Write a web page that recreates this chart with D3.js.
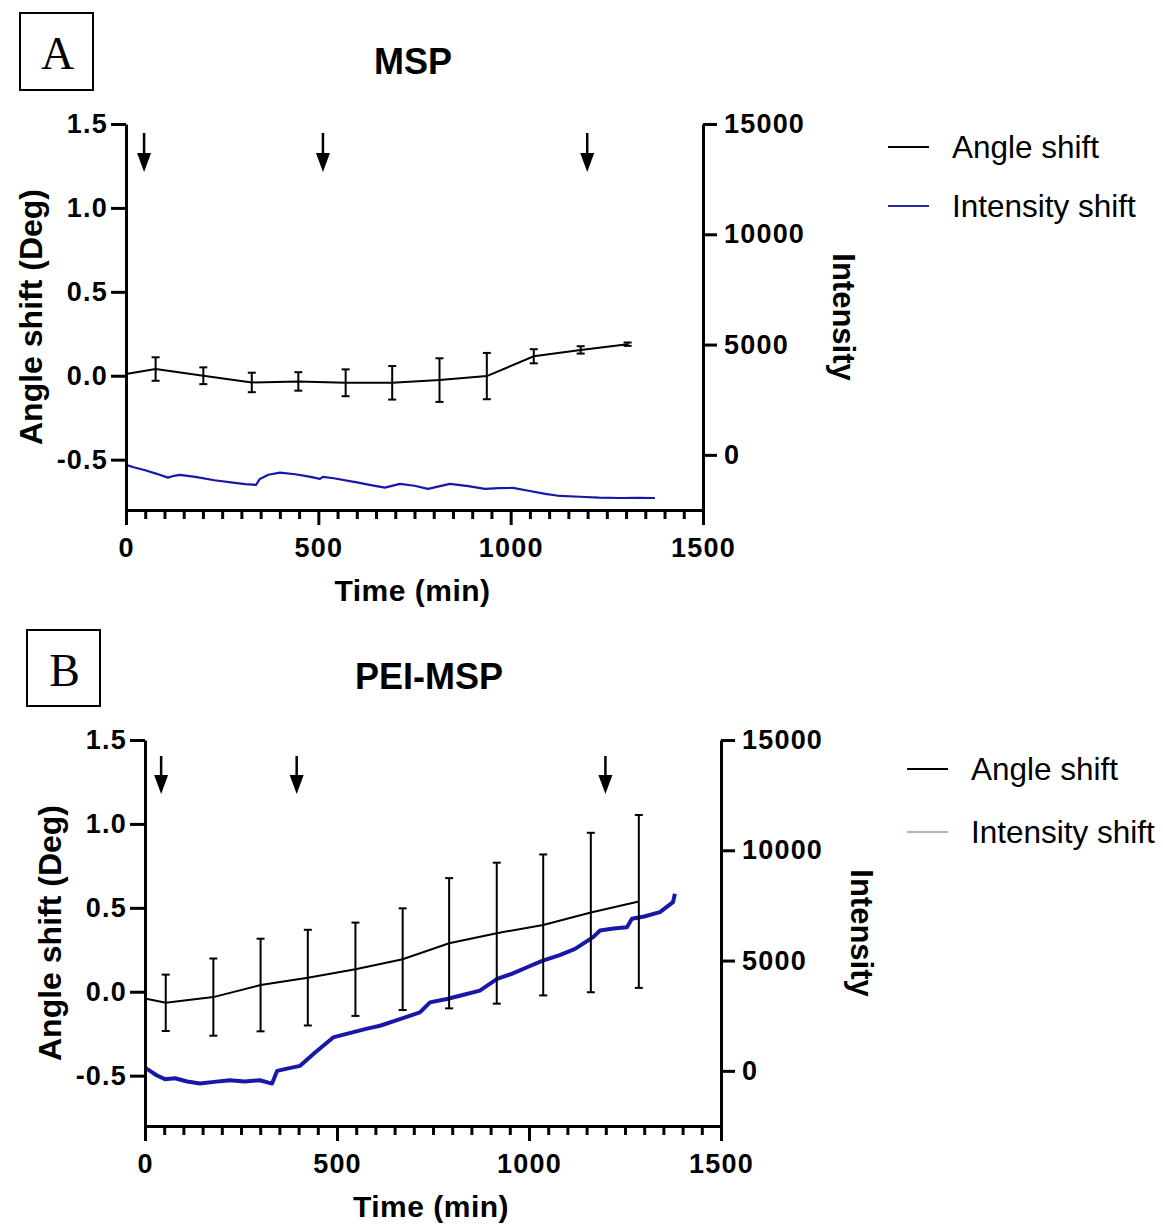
<!DOCTYPE html>
<html>
<head>
<meta charset="utf-8">
<script src="https://cdn.jsdelivr.net/npm/d3@7"></script>
<style>
  body { margin: 0; background: #fff; }
  svg text { font-family: "Liberation Sans", Arial, Helvetica, sans-serif; fill: #000; }
</style>
</head>
<body>
<svg id="chart" width="1163" height="1225"></svg>
<script>
// ---- tick labels ----
const xTicks = [0, 500, 1000, 1500];
const angleTicks = [-0.5, 0.0, 0.5, 1.0, 1.5];
const intensityTicks = [0, 5000, 10000, 15000];
const legendLabels = ["Angle shift", "Intensity shift"];

// ---- Panel A: MSP ----
const mspAngleTime = [0, 77, 201, 327, 448, 571, 692, 815, 938, 1060, 1182, 1304];
const mspAngleMean = [0.01, 0.04, 0.0, -0.04, -0.034, -0.042, -0.042, -0.026, -0.002, 0.116, 0.154, 0.188];
const mspAngleErr  = [0, 0.07, 0.05, 0.058, 0.055, 0.08, 0.1, 0.13, 0.138, 0.042, 0.022, 0.01];
const mspIntensityTime = [0, 20, 50, 80, 109, 125, 140, 180, 230, 278, 310, 338, 348, 370, 400, 440, 480, 504, 512, 540, 600, 640, 673, 712, 750, 785, 842, 890, 933, 970, 1006, 1050, 1090, 1128, 1180, 1230, 1284, 1330, 1375];
const mspIntensity = [-455, -560, -700, -860, -1032, -950, -909, -1000, -1150, -1259, -1330, -1364, -1091, -900, -805, -880, -1000, -1091, -1000, -1060, -1250, -1380, -1486, -1318, -1400, -1545, -1318, -1420, -1545, -1510, -1500, -1640, -1770, -1864, -1900, -1940, -1955, -1950, -1955];
const mspArrows = [47, 512, 1199];

// ---- Panel B: PEI-MSP ----
const peiAngleTime = [0, 54, 178, 301, 424, 548, 671, 792, 916, 1037, 1161, 1286];
const peiAngleMean = [-0.04, -0.066, -0.032, 0.04, 0.084, 0.134, 0.194, 0.289, 0.349, 0.398, 0.472, 0.538];
const peiAngleErr  = [0, 0.168, 0.23, 0.276, 0.285, 0.278, 0.303, 0.388, 0.42, 0.42, 0.475, 0.515];
const peiIntensityTime = [0, 13, 30, 52, 78, 110, 143, 180, 221, 260, 299, 331, 344, 370, 404, 443, 490, 530, 573, 612, 664, 716, 742, 786, 830, 872, 917, 955, 995, 1036, 1080, 1120, 1167, 1185, 1220, 1255, 1268, 1300, 1341, 1375, 1380];
const peiIntensity = [150, 0, -200, -377, -333, -480, -576, -500, -424, -480, -424, -576, 0, 100, 227, 833, 1515, 1700, 1894, 2045, 2350, 2652, 3106, 3258, 3450, 3636, 4167, 4400, 4697, 5000, 5250, 5530, 6061, 6364, 6450, 6515, 6894, 7000, 7197, 7652, 8030];
const peiArrows = [42, 395, 1199];

const svg = d3.select('#chart');

function drawPanel(cfg) {
    const g = svg.append('g');

    // scales
    const x = d3.scaleLinear().domain([0, 1500]).range([cfg.left, cfg.right]);
    const yAngle = d3.scaleLinear().domain([-0.8, 1.5]).range([cfg.bottom, cfg.top]);
    const yInt = d3.scaleLinear().domain([-2500, 15000]).range([cfg.bottom, cfg.top]);

    // panel letter box
    g.append('rect')
        .attr('x', cfg.box[0]).attr('y', cfg.box[1])
        .attr('width', cfg.box[2]).attr('height', cfg.box[3])
        .attr('fill', 'none').attr('stroke', '#000').attr('stroke-width', 2);
    g.append('text')
        .attr('x', cfg.box[0] + cfg.box[2] / 2 + 1)
        .attr('y', cfg.letterY)
        .attr('text-anchor', 'middle')
        .style('font-family', '"Liberation Serif", "Times New Roman", serif')
        .style('font-size', '46px')
        .text(cfg.letter);

    // title
    g.append('text')
        .attr('x', cfg.titleX).attr('y', cfg.titleY)
        .attr('text-anchor', 'middle')
        .style('font-size', '36px').style('font-weight', 'bold')
        .text(cfg.title);

    // intensity trace (under the angle line)
    const intData = cfg.intTime.map((t, i) => ({ t: t, v: cfg.intensity[i] }));
    g.append('path')
        .datum(intData)
        .attr('fill', 'none')
        .attr('stroke', '#1818a8')
        .attr('stroke-width', cfg.traceWidth)
        .attr('stroke-linejoin', 'round')
        .attr('d', d3.line().x(d => x(d.t)).y(d => yInt(d.v)));

    // angle shift: mean line + error bars
    const angData = cfg.angTime.map((t, i) => ({ t: t, v: cfg.angMean[i], e: cfg.angErr[i] }));
    g.append('path')
        .datum(angData)
        .attr('fill', 'none')
        .attr('stroke', '#000')
        .attr('stroke-width', 2)
        .attr('d', d3.line().x(d => x(d.t)).y(d => yAngle(d.v)));

    const bars = g.selectAll('.err')
        .data(angData.filter(d => d.e > 0))
        .enter().append('g')
        .attr('stroke', '#000').attr('stroke-width', 2);
    bars.append('line')
        .attr('x1', d => x(d.t)).attr('x2', d => x(d.t))
        .attr('y1', d => yAngle(d.v - d.e)).attr('y2', d => yAngle(d.v + d.e));
    bars.append('line')
        .attr('x1', d => x(d.t) - 4).attr('x2', d => x(d.t) + 4)
        .attr('y1', d => yAngle(d.v + d.e)).attr('y2', d => yAngle(d.v + d.e));
    bars.append('line')
        .attr('x1', d => x(d.t) - 4).attr('x2', d => x(d.t) + 4)
        .attr('y1', d => yAngle(d.v - d.e)).attr('y2', d => yAngle(d.v - d.e));

    // injection arrows
    const arrows = g.selectAll('.arrow').data(cfg.arrows).enter().append('g');
    arrows.append('line')
        .attr('x1', d => x(d)).attr('x2', d => x(d))
        .attr('y1', cfg.top + cfg.arrowOff[0]).attr('y2', cfg.top + cfg.arrowOff[1] + 2)
        .attr('stroke', '#000').attr('stroke-width', 2.5);
    arrows.append('path')
        .attr('d', d => `M${x(d) - 7},${cfg.top + cfg.arrowOff[1]}L${x(d) + 7},${cfg.top + cfg.arrowOff[1]}L${x(d)},${cfg.top + cfg.arrowOff[2]}Z`)
        .attr('fill', '#000');

    // axes
    const styleAxis = sel => {
        sel.selectAll('path.domain').attr('stroke', '#000').attr('stroke-width', 3);
        sel.selectAll('.tick line').attr('stroke', '#000').attr('stroke-width', 3);
        sel.selectAll('text')
            .style('font-size', '27px').style('font-weight', 'bold')
            .style('letter-spacing', '1.2px').attr('fill', '#000');
    };

    // minor x ticks every 50 min
    const minor = d3.range(0, 1501, 50).filter(v => v % 500 !== 0);
    g.append('g')
        .attr('transform', `translate(0,${cfg.bottom})`)
        .call(d3.axisBottom(x).tickValues(minor).tickFormat('').tickSize(9).tickSizeOuter(0))
        .call(sel => sel.select('.domain').remove())
        .selectAll('.tick line').attr('stroke', '#000').attr('stroke-width', 3);

    g.append('g')
        .attr('transform', `translate(0,${cfg.bottom})`)
        .call(d3.axisBottom(x).tickValues(xTicks).tickFormat(d => String(d)).tickSize(15).tickSizeOuter(0).tickPadding(13))
        .call(styleAxis);

    g.append('g')
        .attr('transform', `translate(${cfg.left},0)`)
        .call(d3.axisLeft(yAngle).tickValues(angleTicks).tickFormat(d => d.toFixed(1)).tickSize(15).tickSizeOuter(0).tickPadding(3))
        .call(styleAxis);

    g.append('g')
        .attr('transform', `translate(${cfg.right},0)`)
        .call(d3.axisRight(yInt).tickValues(intensityTicks).tickFormat(d => String(d)).tickSize(14).tickSizeOuter(0).tickPadding(7))
        .call(styleAxis);

    // axis titles
    const midY = (cfg.top + cfg.bottom) / 2;
    g.append('text')
        .attr('transform', `translate(${cfg.left - 84},${midY}) rotate(-90)`)
        .attr('text-anchor', 'middle')
        .style('font-size', '32px').style('font-weight', 'bold')
        .text('Angle shift (Deg)');
    g.append('text')
        .attr('transform', `translate(${cfg.right + 130},${midY}) rotate(90)`)
        .attr('text-anchor', 'middle')
        .style('font-size', '31px').style('font-weight', 'bold')
        .text('Intensity');
    g.append('text')
        .attr('x', (cfg.left + cfg.right) / 2 - 2)
        .attr('y', cfg.bottom + 91)
        .attr('text-anchor', 'middle')
        .style('font-size', '30px').style('font-weight', 'bold')
        .style('letter-spacing', '0.5px')
        .text('Time (min)');

    // legend
    const legColors = ['#000', cfg.legendIntColor];
    legendLabels.forEach((lab, i) => {
        const ly = cfg.legendY + i * cfg.legendGap;
        g.append('line')
            .attr('x1', cfg.legendX).attr('x2', cfg.legendX + 41)
            .attr('y1', ly).attr('y2', ly)
            .attr('stroke', legColors[i]).attr('stroke-width', 1.8);
        g.append('text')
            .attr('x', cfg.legendX + 64).attr('y', ly + 11)
            .style('font-size', '31.5px')
            .text(lab);
    });
}

drawPanel({
    letter: 'A', title: 'MSP',
    box: [20, 13, 73, 77], letterY: 69,
    titleX: 413, titleY: 74,
    left: 126, right: 703, top: 124, bottom: 510,
    angTime: mspAngleTime, angMean: mspAngleMean, angErr: mspAngleErr,
    intTime: mspIntensityTime, intensity: mspIntensity,
    traceWidth: 2.2,
    arrows: mspArrows, arrowOff: [9, 29, 48],
    legendX: 888, legendY: 147, legendGap: 59, legendIntColor: '#2a2aa0'
});

drawPanel({
    letter: 'B', title: 'PEI-MSP',
    box: [27, 630, 73, 76], letterY: 686,
    titleX: 429, titleY: 689,
    left: 145, right: 721, top: 740, bottom: 1126,
    angTime: peiAngleTime, angMean: peiAngleMean, angErr: peiAngleErr,
    intTime: peiIntensityTime, intensity: peiIntensity,
    traceWidth: 4,
    arrows: peiArrows, arrowOff: [16, 35, 54],
    legendX: 907, legendY: 769, legendGap: 63, legendIntColor: '#b0b4d0'
});
</script>
</body>
</html>
